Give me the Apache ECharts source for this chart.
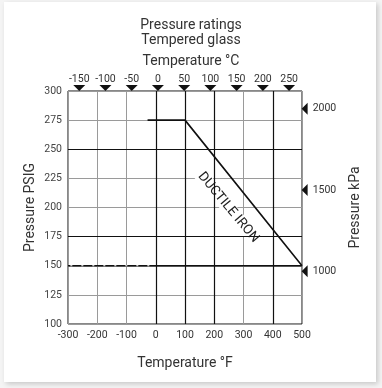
<!DOCTYPE html>
<html><head><meta charset="utf-8">
<script src="https://cdn.jsdelivr.net/npm/echarts@6/dist/echarts.min.js"></script>
<style>
html,body{margin:0;padding:0;background:#f4f4f4;}
#card{position:absolute;left:4px;top:2px;width:372px;height:380px;background:#fff;box-shadow:2px 2px 5px rgba(0,0,0,0.18);}
#c{position:absolute;left:0;top:0;width:382px;height:388px;}
</style></head>
<body><div id="card"></div><div id="c"></div>
<script>
// Data
const ductileIronF = [-28, 100, 500];
const ductileIronPsi = [275, 275, 150];
const baseLineF = [-300, 500];
const baseLinePsi = [150, 150];
const celsiusTicks = [-150, -100, -50, 0, 50, 100, 150, 200, 250];
const kpaTicks = [1000, 1500, 2000];
const darkGridF = [0, 100, 200, 400];
const darkGridPsi = [175, 250];
const curveLabel = 'DUCTILE IRON';
const curveLabelPos = [248, 200];

const FONT = 'Roboto, "Liberation Sans", sans-serif';
const chart = echarts.init(document.getElementById('c'), null, {renderer:'canvas'});
chart.setOption({
  backgroundColor: 'transparent',
  animation: false,
  title: [
    {text: 'Pressure ratings', left: 'center', top: 13, textStyle:{fontFamily:FONT, fontSize:14, fontWeight:'normal', color:'#333'}},
    {text: 'Tempered glass', left: 'center', top: 28, textStyle:{fontFamily:FONT, fontSize:14, fontWeight:'normal', color:'#333'}},
    {text: 'Temperature °C', left: 'center', top: 49, textStyle:{fontFamily:FONT, fontSize:14, fontWeight:'normal', color:'#333'}}
  ],
  grid: {left: 68, right: 80, top: 91, bottom: 64, show: true, borderColor:'#111', borderWidth:1, backgroundColor:'transparent'},
  xAxis: [
    {type:'value', min:-300, max:500, interval:100,
     name:'Temperature °F', nameLocation:'middle', nameGap:32,
     nameTextStyle:{fontFamily:FONT, fontSize:14, color:'#333'},
     axisLine:{show:false}, axisTick:{show:false},
     axisLabel:{fontFamily:FONT, fontSize:10.5, color:'#333', margin:6},
     splitLine:{show:true, lineStyle:{color:'#9a9a9a', width:1}}},
    {type:'value', min:-171.4, max:274.6, show:false, position:'top'}
  ],
  yAxis: [
    {type:'value', min:100, max:300, interval:25,
     name:'Pressure PSIG', nameLocation:'middle', nameGap:31, nameMoveOverlap:false,
     nameTextStyle:{fontFamily:FONT, fontSize:14, color:'#333'},
     axisLine:{show:false}, axisTick:{show:false},
     axisLabel:{fontFamily:FONT, fontSize:10.5, color:'#444', margin:6},
     splitLine:{show:true, lineStyle:{color:'#9a9a9a', width:1}}},
    {type:'value', min:676, max:2109, position:'right',
     name:'Pressure kPa', nameLocation:'middle', nameGap:46, nameRotate:90,
     nameTextStyle:{fontFamily:FONT, fontSize:14, color:'#333'},
     axisLine:{show:false}, axisTick:{show:false}, axisLabel:{show:false}, splitLine:{show:false}}
  ],
  series: [
    {type:'line', xAxisIndex:0, yAxisIndex:0, symbol:'none', silent:true,
     data: baseLineF.map((f,i)=>[f, baseLinePsi[i]]),
     lineStyle:{color:'#111', width:1.5},
     markLine:{symbol:'none', silent:true, label:{show:false},
       lineStyle:{color:'#111', width:1.2, type:'solid'},
       data: darkGridF.map(v=>({xAxis:v})).concat(darkGridPsi.map(v=>({yAxis:v})))}},
    {type:'line', xAxisIndex:0, yAxisIndex:0, symbol:'none', silent:true, z:3,
     data: [[-292, 150], [-5, 150]],
     lineStyle:{color:'#fff', width:1, type:[2,9]}},
    {type:'scatter', xAxisIndex:0, yAxisIndex:0, symbolSize:0, silent:true, z:3,
     itemStyle:{opacity:1},
     data:[curveLabelPos],
     label:{show:true, formatter:curveLabel, rotate:-50, fontFamily:FONT, fontSize:13.5, color:'#222',
       backgroundColor:'#fff', padding:[0,1], position:'inside'}},
    {type:'line', xAxisIndex:0, yAxisIndex:0, symbol:'none', silent:true, z:4,
     data: ductileIronF.map((f,i)=>[f, ductileIronPsi[i]]),
     lineStyle:{color:'#111', width:1.6}},
    {type:'scatter', xAxisIndex:1, yAxisIndex:0, clip:false, silent:true,
     symbol:'triangle', symbolRotate:180, symbolSize:[12,6], itemStyle:{color:'#111', opacity:1},
     data: celsiusTicks.map(c=>[c, 302.5]),
     label:{show:true, position:'top', distance:0, formatter:p=>String(p.value[0]),
       fontFamily:FONT, fontSize:10.5, color:'#333'}},
    {type:'scatter', xAxisIndex:0, yAxisIndex:1, clip:false, silent:true,
     symbol:'triangle', symbolRotate:90, symbolSize:[12,6], itemStyle:{color:'#111', opacity:1},
     data: kpaTicks.map(k=>[509, k]),
     label:{show:true, position:'right', distance:5, formatter:p=>String(p.value[1]),
       fontFamily:FONT, fontSize:10.5, color:'#333'}}
  ]
});
</script></body></html>
